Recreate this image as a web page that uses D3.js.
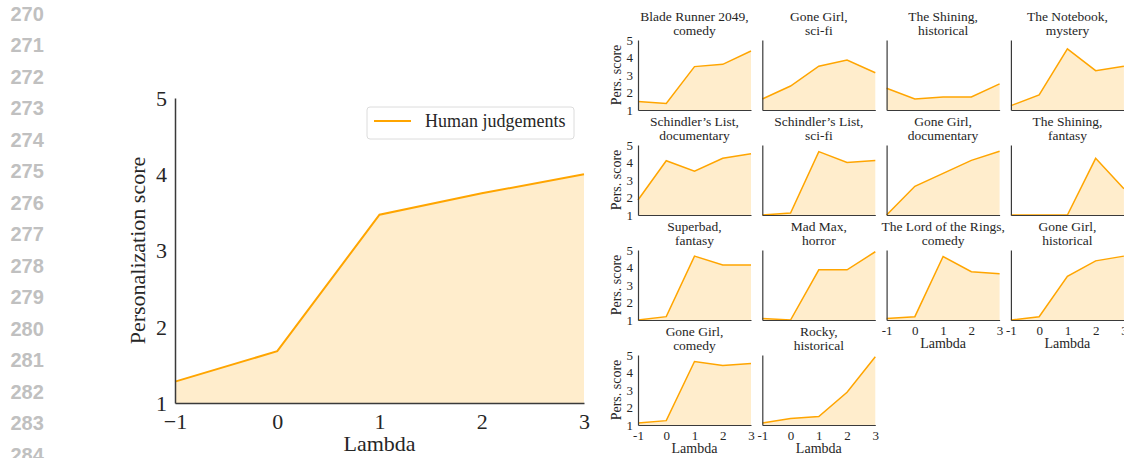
<!DOCTYPE html>
<html>
<head>
<meta charset="utf-8">
<script src="https://cdn.jsdelivr.net/npm/d3@7"></script>
<style>
  html, body { margin: 0; padding: 0; background: #fff; }
  svg { display: block; }
</style>
</head>
<body>
<svg id="chart" width="1124" height="458"></svg>
<script>
// ---------- DATA ----------
const lambdas = [-1, 0, 1, 2, 3];
const xTickLabels = ["\u22121", "0", "1", "2", "3"];
const smallXTickLabels = ["-1", "0", "1", "2", "3"];
const yTicks = [1, 2, 3, 4, 5];
const mainValues = [1.28, 1.68, 3.47, 3.75, 4.0];
const lineNumbers = [270, 271, 272, 273, 274, 275, 276, 277, 278, 279, 280, 281, 282, 283, 284];

const panelTitles = [
  ["Blade Runner 2049,", "comedy"],
  ["Gone Girl,", "sci-fi"],
  ["The Shining,", "historical"],
  ["The Notebook,", "mystery"],
  ["Schindler\u2019s List,", "documentary"],
  ["Schindler\u2019s List,", "sci-fi"],
  ["Gone Girl,", "documentary"],
  ["The Shining,", "fantasy"],
  ["Superbad,", "fantasy"],
  ["Mad Max,", "horror"],
  ["The Lord of the Rings,", "comedy"],
  ["Gone Girl,", "historical"],
  ["Gone Girl,", "comedy"],
  ["Rocky,", "historical"]
];
const panelValues = [
  [1.48, 1.37, 3.48, 3.61, 4.37],
  [1.63, 2.37, 3.5, 3.86, 3.13],
  [2.24, 1.63, 1.74, 1.74, 2.49],
  [1.25, 1.86, 4.49, 3.25, 3.5],
  [1.86, 4.1, 3.5, 4.24, 4.5],
  [1.0, 1.11, 4.62, 4.0, 4.12],
  [1.0, 2.64, 3.38, 4.12, 4.64],
  [1.0, 1.0, 1.0, 4.24, 2.5],
  [1.0, 1.19, 4.65, 4.15, 4.15],
  [1.08, 1.0, 3.87, 3.87, 4.9],
  [1.08, 1.19, 4.63, 3.76, 3.64],
  [1.0, 1.19, 3.5, 4.38, 4.65],
  [1.12, 1.25, 4.63, 4.4, 4.52],
  [1.12, 1.37, 1.48, 2.87, 4.9]
];

// ---------- STYLE ----------
const ORANGE = "#ffa500";
const FILL = "#ffedcc";
const SPINE = "#3a3a3a";
const TEXT = "#262626";
const SERIF = "'Liberation Serif', 'Times New Roman', serif";

const svg = d3.select("#chart");

// ---------- line numbers ----------
svg.append("g").selectAll("text").data(lineNumbers).join("text")
  .attr("x", 10.5)
  .attr("y", (d, i) => 20.8 + i * 31.5)
  .attr("font-family", "'Liberation Sans', Arial, sans-serif")
  .attr("font-size", 20)
  .attr("font-weight", "bold")
  .attr("fill", "#c0c0c0")
  .text(d => d);

// ---------- main chart ----------
const mx = d3.scaleLinear().domain([-1, 3]).range([175, 584]);
const my = d3.scaleLinear().domain([1, 5]).range([403, 98]);
const mainData = lambdas.map((l, i) => ({ x: l, y: mainValues[i] }));

const gm = svg.append("g");
gm.append("path").datum(mainData)
  .attr("fill", FILL)
  .attr("d", d3.area().x(d => mx(d.x)).y0(my(1)).y1(d => my(d.y)));
gm.append("path").datum(mainData)
  .attr("fill", "none").attr("stroke", ORANGE).attr("stroke-width", 2)
  .attr("d", d3.line().x(d => mx(d.x)).y(d => my(d.y)));

const mxAxis = gm.append("g").attr("transform", `translate(0,${my(1)})`)
  .call(d3.axisBottom(mx).tickValues(lambdas).tickSize(0).tickPadding(10)
    .tickFormat((d, i) => xTickLabels[i]));
const myAxis = gm.append("g").attr("transform", `translate(${mx(-1)},0)`)
  .call(d3.axisLeft(my).tickValues(yTicks).tickSize(0).tickPadding(8)
    .tickFormat(d3.format("d")));
[mxAxis, myAxis].forEach(a => {
  a.select(".domain").attr("stroke", SPINE).attr("stroke-width", 1.5);
  a.selectAll("text").attr("font-family", SERIF).attr("font-size", 22).attr("fill", TEXT);
});
mxAxis.selectAll("text").attr("dy", "0.71em");
myAxis.selectAll("text").attr("dy", "0.34em");

gm.append("text")
  .attr("x", (mx(-1) + mx(3)) / 2).attr("y", 451)
  .attr("text-anchor", "middle")
  .attr("font-family", SERIF).attr("font-size", 22).attr("fill", TEXT)
  .text("Lambda");
gm.append("text")
  .attr("transform", `translate(145,${(my(1) + my(5)) / 2}) rotate(-90)`)
  .attr("text-anchor", "middle")
  .attr("font-family", SERIF).attr("font-size", 22).attr("fill", TEXT)
  .text("Personalization score");

// legend
const lg = gm.append("g").attr("transform", "translate(367,107)");
lg.append("rect").attr("width", 207).attr("height", 32).attr("rx", 3)
  .attr("fill", "#fff").attr("stroke", "#dcdcdc").attr("stroke-width", 1);
lg.append("line").attr("x1", 7).attr("x2", 44).attr("y1", 14).attr("y2", 14)
  .attr("stroke", ORANGE).attr("stroke-width", 2);
lg.append("text").attr("x", 58).attr("y", 20)
  .attr("font-family", SERIF).attr("font-size", 18).attr("fill", TEXT)
  .text("Human judgements");

// ---------- small multiples ----------
const nCols = 4;
const panelW = 113, panelH = 70;
const colLeft = d3.scaleLinear().domain([0, 1]).range([638, 762.3]);
const rowTop = d3.scaleLinear().domain([0, 1]).range([40, 145]);
const nPanels = panelValues.length;

panelValues.forEach((vals, p) => {
  const c = p % nCols, r = Math.floor(p / nCols);
  const left = colLeft(c), top = rowTop(r);
  const sx = d3.scaleLinear().domain([-1, 3]).range([left, left + panelW]);
  const sy = d3.scaleLinear().domain([1, 5]).range([top + panelH, top]);
  const data = lambdas.map((l, i) => ({ x: l, y: vals[i] }));
  const g = svg.append("g");

  g.append("path").datum(data).attr("fill", FILL)
    .attr("d", d3.area().x(d => sx(d.x)).y0(sy(1)).y1(d => sy(d.y)));
  g.append("path").datum(data).attr("fill", "none")
    .attr("stroke", ORANGE).attr("stroke-width", 1.5)
    .attr("d", d3.line().x(d => sx(d.x)).y(d => sy(d.y)));

  // title
  g.append("text").attr("text-anchor", "middle")
    .attr("x", left + panelW / 2).attr("y", top - 19)
    .attr("font-family", SERIF).attr("font-size", 13.5).attr("fill", TEXT)
    .text(panelTitles[p][0]);
  g.append("text").attr("text-anchor", "middle")
    .attr("x", left + panelW / 2).attr("y", top - 5.5)
    .attr("font-family", SERIF).attr("font-size", 13.5).attr("fill", TEXT)
    .text(panelTitles[p][1]);

  const showX = p + nCols >= nPanels;
  const showY = c === 0;

  const xa = g.append("g").attr("transform", `translate(0,${sy(1)})`)
    .call(d3.axisBottom(sx).tickValues(lambdas).tickSize(0).tickPadding(6)
      .tickFormat((d, i) => showX ? smallXTickLabels[i] : ""));
  const ya = g.append("g").attr("transform", `translate(${sx(-1)},0)`)
    .call(d3.axisLeft(sy).tickValues(yTicks).tickSize(0).tickPadding(5)
      .tickFormat(d => showY ? d3.format("d")(d) : ""));
  [xa, ya].forEach(a => {
    a.select(".domain").attr("stroke", SPINE).attr("stroke-width", 1.2);
    a.selectAll("text").attr("font-family", SERIF).attr("font-size", 13).attr("fill", TEXT);
  });
  xa.selectAll("text").attr("dy", "0.71em");
  ya.selectAll("text").attr("dy", "0.34em");

  if (showX) {
    g.append("text").attr("text-anchor", "middle")
      .attr("x", left + panelW / 2).attr("y", top + panelH + 28)
      .attr("font-family", SERIF).attr("font-size", 14).attr("fill", TEXT)
      .text("Lambda");
  }
  if (showY) {
    g.append("text")
      .attr("transform", `translate(621,${top + panelH / 2}) rotate(-90)`)
      .attr("text-anchor", "middle")
      .attr("font-family", SERIF).attr("font-size", 14).attr("fill", TEXT)
      .text("Pers. score");
  }
});
</script>
</body>
</html>
